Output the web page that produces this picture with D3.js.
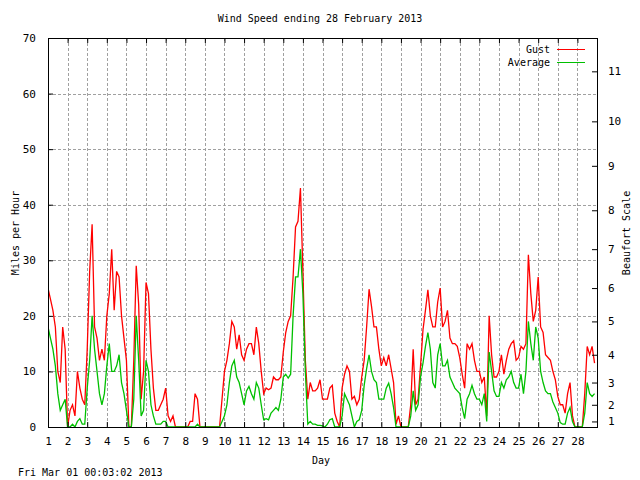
<!DOCTYPE html>
<html>
<head>
<meta charset="utf-8">
<script src="https://cdn.jsdelivr.net/npm/d3@7"></script>
<style>
  body { margin: 0; background: #fff; }
  text { font-family: "DejaVu Sans Mono", "Liberation Mono", monospace; fill: #000; }
</style>
</head>
<body>
<svg id="wind"></svg>
<script>
// Samples every 3 hours, 8 per day, starting at day 1 00:00
const samplesPerDay = 8;
const gust = [
  25, 23, 21, 18, 10, 8, 18, 14,
  0, 3, 4, 2, 10, 7, 5, 4,
  14, 28, 36.5, 18, 16, 12, 14, 12,
  20, 24, 32, 21, 28, 27, 20, 16,
  12, 0, 0, 12, 29, 22, 5, 10,
  26, 24, 14, 7, 3, 3, 4, 5,
  7, 2, 1, 2, 0, 0, 0, 0,
  0, 0, 1, 1, 6, 5, 0, 0,
  0, 0, 0, 0, 0, 0, 0, 5,
  10, 12, 15, 19, 18, 14, 16.6, 13,
  12, 14, 15, 15, 13, 18, 15, 10,
  6, 7, 6.7, 7, 9, 8.5, 8.5, 9,
  13.5, 17, 19, 20, 27, 36, 37, 43,
  28, 12, 5, 8, 6.5, 6.5, 7, 8.5,
  5, 5, 5, 7, 7.5, 2.5, 1, 0,
  7, 9.5, 11, 10, 5, 5.5, 4, 5,
  9, 12, 18, 24.8, 21.7, 18, 18, 14,
  11, 12.5, 11, 13, 10.5, 8, 0.5, 2,
  0, 0, 0, 0, 4, 14, 4, 5,
  11, 17.5, 21, 24.7, 20, 18, 18, 22.5,
  25, 18, 19, 21, 16, 15, 15, 14.5,
  12.5, 9.5, 7, 15, 14, 15, 12, 10,
  10, 8, 9, 2, 20, 13, 9, 9,
  10, 13, 9.5, 12, 14, 15, 15.5, 12,
  12.5, 14.5, 14, 15, 31, 24, 19, 21,
  27, 18, 17, 13, 12.5, 12, 10, 8.5,
  5.5, 4, 4, 2.5, 6, 8, 2, 0,
  0, 0, 0, 6, 14.5, 13, 14.5, 11.5
];
const average = [
  18, 16, 14, 11, 6, 3, 4, 5,
  0, 0, 0.5, 0, 1, 1.5, 0.5, 0.5,
  7, 12, 20, 14, 10, 6, 4, 6,
  11, 15, 10, 10, 11, 13, 8, 6,
  3, 0, 0, 5, 20, 12, 2, 3,
  12, 10, 4, 2, 0.5, 0.5, 0.5, 1,
  1, 0, 0, 0, 0, 0, 0, 0,
  0, 0, 0, 0, 0, 0.5, 0, 0,
  0, 0, 0, 0, 0, 0, 0, 1,
  2, 4, 8, 11, 12, 9, 8, 6,
  4, 6.5, 7.3, 6, 5, 8, 7, 4,
  1.3, 1.5, 1.3, 2.5, 3, 3.5, 3, 5,
  9, 9.5, 8.8, 9.5, 20, 27, 27, 32,
  24, 10, 0.5, 1, 0.5, 0.5, 0.3, 0.3,
  0.2, 0, 0.5, 1.3, 1.5, 0, 0, 0,
  2, 6, 5, 4, 2, 0, 1, 1.3,
  3, 7.5, 10.5, 13, 10, 8.5, 8, 5,
  5, 5, 7, 7.9, 6, 3.5, 0, 0,
  0, 0, 0, 0, 2, 6.5, 3, 4,
  9, 11.5, 14.5, 17, 14, 8, 7, 13,
  15, 11, 11, 12, 9, 8, 7, 6.5,
  6, 3.5, 1.5, 5, 6, 7.5, 6, 5,
  5, 4, 6, 1, 13.5, 10, 6.5, 5.5,
  5.5, 8, 7, 8.5, 9, 10, 8, 7,
  7, 9.5, 6, 10, 19, 15, 12, 18,
  16, 10, 8, 6.5, 6, 6, 4.5, 3.5,
  2.5, 0.8, 0.5, 0.5, 2.5, 3.5, 1, 0,
  0, 0, 0, 2.5, 8, 6, 5.5, 6
];

const dayTicks = d3.range(1, 29);
const mphTicks = [0, 10, 20, 30, 40, 50, 60, 70];
// Beaufort force thresholds in mph
const beaufortMph = [1, 4, 8, 13, 19, 25, 32, 39, 47, 55, 64];
const beaufortLabels = ["1", "2", "3", "4", "5", "6", "7", "8", "9", "10", "11"];

const width = 640, height = 480;
const margin = { top: 38, right: 43, bottom: 53, left: 48 };

const svg = d3.select("#wind")
    .attr("width", width)
    .attr("height", height);

const x = d3.scaleLinear()
    .domain([1, 29])
    .range([margin.left, width - margin.right]);

const y = d3.scaleLinear()
    .domain([0, 70])
    .range([height - margin.bottom, margin.top]);

const plotW = width - margin.right - margin.left;
const plotH = height - margin.bottom - margin.top;

// Grid
const grid = svg.append("g")
    .attr("stroke", "#a0a0a0")
    .attr("stroke-dasharray", "3,2")
    .attr("shape-rendering", "crispEdges");
grid.selectAll(".vg")
    .data(dayTicks.slice(1))
    .enter().append("line")
    .attr("x1", d => Math.round(x(d)) + 0.5)
    .attr("x2", d => Math.round(x(d)) + 0.5)
    .attr("y1", margin.top)
    .attr("y2", height - margin.bottom);
grid.selectAll(".hg")
    .data(mphTicks.slice(1, -1))
    .enter().append("line")
    .attr("x1", margin.left)
    .attr("x2", width - margin.right)
    .attr("y1", d => Math.round(y(d)) + 0.5)
    .attr("y2", d => Math.round(y(d)) + 0.5);

// Data lines
const series = [
    { name: "Gust", values: gust, color: "#ff0000" },
    { name: "Average", values: average, color: "#00c000" }
];

svg.append("clipPath").attr("id", "plotclip")
    .append("rect")
    .attr("x", margin.left)
    .attr("y", margin.top)
    .attr("width", plotW)
    .attr("height", plotH);

const line = d3.line()
    .x((d, i) => x(1 + i / samplesPerDay))
    .y(d => y(d));

svg.append("g")
    .attr("clip-path", "url(#plotclip)")
    .selectAll("path")
    .data(series)
    .enter().append("path")
    .attr("d", d => line(d.values))
    .attr("fill", "none")
    .attr("stroke", d => d.color)
    .attr("stroke-width", 1.3);

// Axes (ticks point inward like gnuplot)
const axisFont = "11px";

const bottomAxis = svg.append("g")
    .attr("transform", `translate(0, ${height - margin.bottom})`)
    .call(d3.axisBottom(x).tickValues(dayTicks).tickSize(-5).tickPadding(10).tickFormat(d3.format("d")));
bottomAxis.select(".domain").remove();
bottomAxis.selectAll("text").style("font-size", axisFont);

const topAxis = svg.append("g")
    .attr("transform", `translate(0, ${margin.top})`)
    .call(d3.axisTop(x).tickValues(dayTicks).tickSize(-5).tickFormat(""));
topAxis.select(".domain").remove();

const leftAxis = svg.append("g")
    .attr("transform", `translate(${margin.left}, 0)`)
    .call(d3.axisLeft(y).tickValues(mphTicks).tickSize(-5).tickPadding(12));
leftAxis.select(".domain").remove();
leftAxis.selectAll("text").style("font-size", axisFont);

const rightAxis = svg.append("g")
    .attr("transform", `translate(${width - margin.right}, 0)`)
    .call(d3.axisRight(y).tickValues(beaufortMph).tickSize(-5).tickPadding(11)
        .tickFormat((d, i) => beaufortLabels[i]));
rightAxis.select(".domain").remove();
rightAxis.selectAll("text").style("font-size", axisFont);

svg.selectAll(".tick line").attr("stroke", "#000");

// Border
svg.append("rect")
    .attr("x", margin.left + 0.5)
    .attr("y", margin.top + 0.5)
    .attr("width", plotW)
    .attr("height", plotH)
    .attr("fill", "none")
    .attr("stroke", "#000")
    .attr("shape-rendering", "crispEdges");

// Title and labels
svg.append("text")
    .attr("x", width / 2)
    .attr("y", 22)
    .attr("text-anchor", "middle")
    .style("font-size", "10px")
    .text("Wind Speed ending 28 February 2013");

svg.append("text")
    .attr("x", 321)
    .attr("y", 464)
    .attr("text-anchor", "middle")
    .style("font-size", "10px")
    .text("Day");

svg.append("text")
    .attr("transform", "translate(19, 233) rotate(-90)")
    .attr("text-anchor", "middle")
    .style("font-size", "10px")
    .text("Miles per Hour");

svg.append("text")
    .attr("transform", "translate(630, 233) rotate(-90)")
    .attr("text-anchor", "middle")
    .style("font-size", "10px")
    .text("Beaufort Scale");

svg.append("text")
    .attr("x", 18)
    .attr("y", 476)
    .style("font-size", "10px")
    .text("Fri Mar 01 00:03:02 2013");

// Legend
const legend = svg.selectAll(".legend")
    .data(series)
    .enter().append("g")
    .attr("class", "legend")
    .attr("transform", (d, i) => `translate(0, ${49 + i * 13})`);

legend.append("text")
    .attr("x", 550)
    .attr("y", 3.5)
    .attr("text-anchor", "end")
    .style("font-size", "10px")
    .text(d => d.name);

legend.append("line")
    .attr("x1", 557)
    .attr("x2", 585)
    .attr("y1", 0.5)
    .attr("y2", 0.5)
    .attr("stroke", d => d.color);
</script>
</body>
</html>
